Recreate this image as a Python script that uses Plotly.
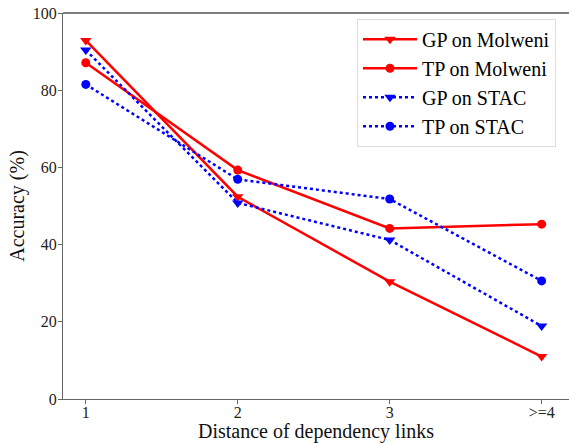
import plotly.graph_objects as go

x_vals = [1, 2, 3, 4]
x_labels = ["1", "2", "3", ">=4"]
gp_molweni = [92.9, 52.4, 30.4, 11.0]
tp_molweni = [87.1, 59.3, 44.2, 45.3]
gp_stac = [90.4, 50.8, 41.2, 18.9]
tp_stac = [81.5, 56.9, 51.8, 30.6]

FONT = "Liberation Serif"

fig = go.Figure()
series = [
    ("GP on Molweni", gp_molweni, "red", "solid", "triangle-down", 10),
    ("TP on Molweni", tp_molweni, "red", "solid", "circle", 9),
    ("GP on STAC", gp_stac, "blue", "dot", "triangle-down", 10),
    ("TP on STAC", tp_stac, "blue", "dot", "circle", 9),
]
for name, ys, col, dash, sym, sz in series:
    fig.add_trace(go.Scatter(
        x=x_vals, y=ys, name=name, mode="lines+markers",
        line=dict(color=col, width=2.5, dash=dash),
        marker=dict(symbol=sym, size=sz, color=col),
    ))

fig.update_layout(
    width=569, height=443,
    margin=dict(l=63, r=0, t=13, b=44),
    plot_bgcolor="white", paper_bgcolor="white",
    font=dict(family=FONT, color="#222", size=16),
    xaxis=dict(
        range=[0.85, 4.18], tickvals=x_vals, ticktext=x_labels,
        showline=True, linecolor="#666", linewidth=1.2,
        ticks="outside", ticklen=4, tickcolor="#666",
        showgrid=False, zeroline=False, automargin=False,
        ticklabelstandoff=-5,
        tickfont=dict(family=FONT, size=16, color="#222"),
        title=dict(text="Distance of dependency links",
                   font=dict(family=FONT, size=20, color="#111"), standoff=3),
    ),
    yaxis=dict(
        range=[0, 100], tickvals=[0, 20, 40, 60, 80, 100],
        showline=True, linecolor="#666", linewidth=1.2,
        ticks="outside", ticklen=4, tickcolor="#666",
        showgrid=False, zeroline=False, automargin=False,
        ticklabelstandoff=-2,
        tickfont=dict(family=FONT, size=16, color="#222"),
        title=dict(text="Accuracy (%)",
                   font=dict(family=FONT, size=20, color="#111"), standoff=2),
    ),
    legend=dict(
        x=0.581, y=0.985, xanchor="left", yanchor="top",
        bordercolor="#dddddd", borderwidth=1, bgcolor="white",
        font=dict(family=FONT, size=20, color="black"),
        tracegroupgap=0, itemwidth=54,
    ),
    showlegend=True,
)
fig.add_shape(type="line", xref="paper", yref="paper", x0=0, x1=1, y0=1, y1=1,
              line=dict(color="black", width=1.2))

fig.write_html("out.html")
